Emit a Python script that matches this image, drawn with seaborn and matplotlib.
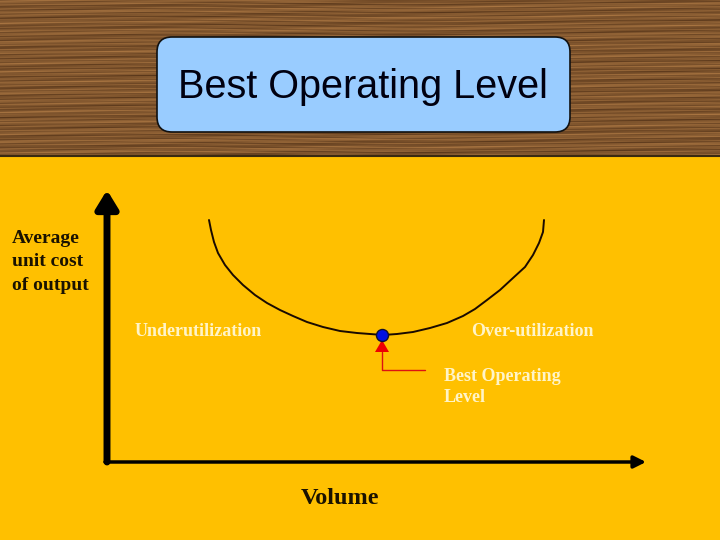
import numpy as np
import matplotlib
matplotlib.use("Agg")
import matplotlib.pyplot as plt
import seaborn as sns
import pandas as pd
from matplotlib.patches import FancyBboxPatch, Rectangle, Polygon

# ---- data (in screen-like units) ----
volume = [209, 211, 214, 218, 225, 233, 243, 255, 267, 280, 293, 307, 323, 340, 357, 370,
          383, 397, 413, 430, 447, 463, 475, 487, 500, 513, 525, 533, 539, 543, 544]
avg_cost = [220, 230, 242, 253, 265, 275, 285, 295, 303, 310, 316, 322, 327, 331, 333, 334,
            335, 334, 332, 328, 323, 316, 309, 300, 290, 278, 267, 255, 243, 232, 220]
best_volume = [382]
best_cost = [335]

title = "Best Operating Level"
y_label = "Average\nunit cost\nof output"
x_label = "Volume"
region_labels = ["Underutilization", "Over-utilization"]
best_label = "Best Operating\nLevel"

sns.set_theme(style="white")
plt.rcParams['font.family'] = ['DejaVu Sans']

fig = plt.figure(figsize=(7.2, 5.4), dpi=100)
ax = fig.add_axes([0, 0, 1, 1])

# wood background (deterministic streak texture)
yy, xx = np.mgrid[0:156, 0:720]
tex = (0.55 + 0.16 * np.sin(yy * 1.7 + 3 * np.sin(xx / 90.0))
       + 0.12 * np.sin(yy * 0.63 + xx / 140.0)
       + 0.10 * np.sin(yy * 3.1 + 2 * np.sin(xx / 37.0))
       + 0.08 * np.sin(xx / 23.0 + yy * 0.9))
tex = np.clip(tex, 0, 1)
dark = np.array([80, 48, 22]) / 255
light = np.array([170, 118, 66]) / 255
img = dark[None, None, :] + (light - dark)[None, None, :] * tex[..., None]
ax.imshow(img, extent=[0, 720, 156, 0], aspect="auto", zorder=0)

# yellow panel
ax.add_patch(Rectangle((0, 156), 720, 384, facecolor="#FFC000", edgecolor="none", zorder=1))
ax.plot([0, 720], [156, 156], color="#3a2a10", lw=1.5, zorder=2)

# title box
ax.add_patch(FancyBboxPatch((157, 37), 413, 95, boxstyle="round,pad=0,rounding_size=15",
                            facecolor="#99CCFF", edgecolor="#111111", lw=1.2, zorder=3))
ax.text(363, 87, title, ha="center", va="center", fontsize=28.5,
        family="Liberation Sans", color="#000010", zorder=4)

# axes arrows
ax.annotate("", xy=(107, 190), xytext=(107, 462),
            arrowprops=dict(arrowstyle="-|>,head_length=0.9,head_width=0.55",
                            lw=5, color="black", shrinkA=0, shrinkB=0), zorder=5)
ax.annotate("", xy=(646, 462), xytext=(105, 462),
            arrowprops=dict(arrowstyle="-|>,head_length=0.6,head_width=0.3",
                            lw=2.5, color="black", shrinkA=0, shrinkB=0), zorder=5)

# cost curve
df = pd.DataFrame({"volume": volume, "cost": avg_cost})
sns.lineplot(data=df, x="volume", y="cost", sort=False, ax=ax, color="#1a0a00",
             lw=1.4, zorder=6, estimator=None)

# best point
sns.scatterplot(x=best_volume, y=best_cost, ax=ax, s=75, color="#0010E0",
                edgecolor="#101030", linewidth=1, zorder=8)

# red pointer
bx, by = best_volume[0], best_cost[0]
ax.add_patch(Polygon([[bx, by + 5], [bx - 7, by + 17], [bx + 7, by + 17]],
                     closed=True, facecolor="#EE0000", edgecolor="none", zorder=7))
ax.plot([bx, bx, bx + 43], [by + 17, by + 35, by + 35], color="#DD1111", lw=1, zorder=7)

serif = "Liberation Serif"
cream = "#FFF4C8"
ax.text(12, 262, y_label, ha="left", va="center", fontsize=14, fontweight="bold",
        family=serif, color="#1a1200", linespacing=1.5, zorder=9)
ax.text(198, 331, region_labels[0], ha="center", va="center", fontsize=13,
        fontweight="bold", family=serif, color=cream, zorder=9)
ax.text(532, 331, region_labels[1], ha="center", va="center", fontsize=13,
        fontweight="bold", family=serif, color=cream, zorder=9)
ax.text(444, 387, best_label, ha="left", va="center", fontsize=13,
        fontweight="bold", family=serif, color=cream, linespacing=1.25, zorder=9)
ax.text(340, 499, x_label, ha="center", va="center", fontsize=17.5,
        fontweight="bold", family=serif, color="#1a1200", zorder=9)

ax.set_xlim(0, 720)
ax.set_ylim(540, 0)
ax.axis("off")

fig.savefig("out.png", dpi=100)
